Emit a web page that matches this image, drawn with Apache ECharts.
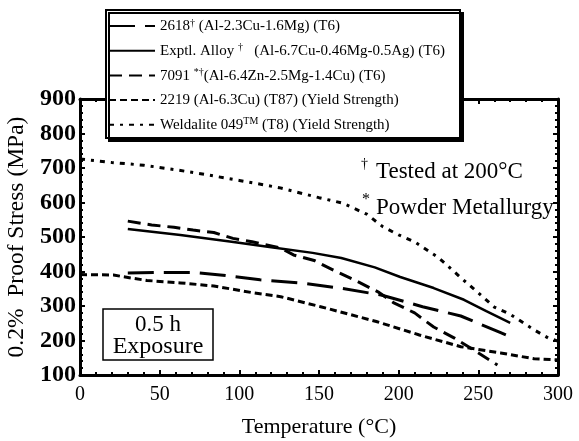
<!DOCTYPE html>
<html>
<head>
<meta charset="utf-8">
<script src="https://cdn.jsdelivr.net/npm/echarts@6/dist/echarts.min.js"></script>
<style>
  html, body { margin: 0; padding: 0; background: #fff; }
  #chart { width: 579px; height: 441px; }
</style>
</head>
<body>
<div id="chart"></div>
<script>
// Temperature (°C) / 0.2% proof stress (MPa) readings per alloy
const temp2618 = [30, 50, 72, 88, 113, 138, 163, 189, 215, 239, 264, 270];
const stress2618 = [396, 397, 397, 390, 376, 367, 352, 332, 298, 271, 223, 211];

const tempExptl = [30, 63, 94, 120, 146, 164, 185, 201, 222, 241, 255, 270];
const stressExptl = [523, 506, 487, 470, 454, 439, 412, 384, 352, 318, 285, 251];

const temp7091 = [30, 45, 59, 71, 84, 96, 108, 126, 134, 147, 159, 172, 187, 197, 210, 222, 235, 247, 262];
const stress7091 = [546, 535, 528, 520, 513, 496, 486, 468, 448, 432, 404, 376, 341, 309, 280, 239, 207, 173, 129];

const temp2219 = [0, 21, 27, 42, 63, 84, 109, 126, 151, 186, 213, 239, 264, 285, 300];
const stress2219 = [391, 390, 385, 374, 367, 358, 338, 327, 298, 255, 216, 182, 164, 147, 144];

const tempWeld = [0, 20, 40, 60, 80, 100, 125, 150, 165, 180, 190, 200, 210, 225, 240, 250, 260, 270, 285, 294, 300];
const stressWeld = [726, 716, 708, 695, 680, 664, 643, 614, 598, 566, 530, 506, 486, 440, 378, 338, 297, 276, 231, 207, 198];

// Axis ranges and tick spacing
const xRange = [0, 300, 50];
const yRange = [100, 900, 100];

// Series names and their legend captions
const seriesNames = ['2618', 'Exptl. Alloy', '7091', '2219', 'Weldalite 049'];
const legendCaptions = [
  '2618{s|†} (Al-2.3Cu-1.6Mg) (T6)',
  'Exptl. Alloy {s|†}   (Al-6.7Cu-0.46Mg-0.5Ag) (T6)',
  '7091 {s|*†}(Al-6.4Zn-2.5Mg-1.4Cu) (T6)',
  '2219 (Al-6.3Cu) (T87) (Yield Strength)',
  'Weldalite 049{s|TM} (T8) (Yield Strength)'
];

const pairs = (xs, ys) => xs.map((x, i) => [x, ys[i]]);
const FONT = 'Liberation Serif';

const chart = echarts.init(document.getElementById('chart'), null, { renderer: 'canvas' });

const frameAxis = (extra) => Object.assign({
  type: 'value',
  axisLine: { show: true, onZero: false, lineStyle: { color: '#000', width: 3 } },
  axisTick: { show: true, inside: true, length: 5, lineStyle: { color: '#000', width: 2 } },
  minorTick: { show: true, splitNumber: 5, length: 3, lineStyle: { color: '#000', width: 2 } },
  splitLine: { show: false },
  minorSplitLine: { show: false }
}, extra);

const lineSeries = (name, data, width, dash) => ({
  name: name,
  type: 'line',
  data: data,
  symbol: 'none',
  smooth: false,
  z: 3,
  itemStyle: { color: '#000' },
  lineStyle: { color: '#000', width: width, type: dash, cap: 'butt' }
});

chart.setOption({
  backgroundColor: '#fff',
  animation: false,
  grid: { left: 80, right: 21, top: 99, bottom: 66, containLabel: false, outerBoundsMode: 'none' },
  xAxis: [
    frameAxis({
      min: xRange[0], max: xRange[1], interval: xRange[2],
      position: 'bottom',
      name: 'Temperature (°C)',
      nameLocation: 'middle',
      nameGap: 41,
      nameTextStyle: { fontFamily: FONT, fontSize: 22, color: '#000' },
      axisLabel: { fontFamily: FONT, fontSize: 20, color: '#000', margin: 10 }
    }),
    frameAxis({
      min: xRange[0], max: xRange[1], interval: xRange[2],
      position: 'top',
      axisLabel: { show: false }
    })
  ],
  yAxis: [
    frameAxis({
      min: yRange[0], max: yRange[1], interval: yRange[2],
      position: 'left',
      name: '0.2%  Proof Stress (MPa)',
      nameLocation: 'middle',
      nameGap: 45,
      nameTextStyle: { fontFamily: FONT, fontSize: 23.5, color: '#000' },
      axisLabel: { fontFamily: FONT, fontSize: 24, fontWeight: 'bold', color: '#000', margin: 4 }
    }),
    frameAxis({
      min: yRange[0], max: yRange[1], interval: yRange[2],
      position: 'right',
      axisLabel: { show: false }
    })
  ],
  legend: {
    orient: 'vertical',
    left: 108,
    top: 18,
    z: 20,
    itemWidth: 46,
    itemHeight: 14,
    itemGap: 9.3,
    padding: 0,
    selectedMode: false,
    data: seriesNames,
    itemStyle: { color: 'rgba(0,0,0,0)', borderWidth: 0, opacity: 0 },
    formatter: (name) => legendCaptions[seriesNames.indexOf(name)],
    textStyle: {
      fontFamily: FONT, fontSize: 15, color: '#000', lineHeight: 14,
      rich: {
        s: { fontFamily: FONT, fontSize: 10, color: '#000', padding: [0, 0, 6, 0] }
      }
    }
  },
  graphic: [
    // legend frame with heavy lower/right edge
    {
      type: 'rect', z: 10,
      shape: { x: 106, y: 10, width: 354, height: 128 },
      style: { fill: '#fff', stroke: '#000', lineWidth: 2,
               shadowColor: '#000', shadowOffsetX: 3, shadowOffsetY: 3, shadowBlur: 0 }
    },
    // notes on test conditions
    { type: 'text', z: 10, x: 361, y: 157,
      style: { text: '†', fontFamily: FONT, fontSize: 14, fill: '#000' } },
    { type: 'text', z: 10, x: 376, y: 172,
      style: { text: 'Tested at 200°C', fontFamily: FONT, fontSize: 23, fill: '#000', verticalAlign: 'middle' } },
    { type: 'text', z: 10, x: 362, y: 192,
      style: { text: '*', fontFamily: FONT, fontSize: 16, fill: '#000' } },
    { type: 'text', z: 10, x: 376, y: 208,
      style: { text: 'Powder Metallurgy', fontFamily: FONT, fontSize: 23, fill: '#000', verticalAlign: 'middle' } },
    // exposure time box
    {
      type: 'rect', z: 10,
      shape: { x: 103, y: 309, width: 110, height: 51 },
      style: { fill: '#fff', stroke: '#000', lineWidth: 1.5 }
    },
    { type: 'text', z: 11, x: 158, y: 325,
      style: { text: '0.5 h', fontFamily: FONT, fontSize: 23, fill: '#000', align: 'center', verticalAlign: 'middle' } },
    { type: 'text', z: 11, x: 158, y: 347,
      style: { text: 'Exposure', fontFamily: FONT, fontSize: 24, fill: '#000', align: 'center', verticalAlign: 'middle' } }
  ],
  series: [
    lineSeries(seriesNames[0], pairs(temp2618, stress2618), 3, [26, 10]),
    lineSeries(seriesNames[1], pairs(tempExptl, stressExptl), 2.5, 'solid'),
    lineSeries(seriesNames[2], pairs(temp7091, stress7091), 3, [13, 7]),
    lineSeries(seriesNames[3], pairs(temp2219, stress2219), 3, [7, 4]),
    lineSeries(seriesNames[4], pairs(tempWeld, stressWeld), 3, [5, 6, 3, 6])
  ]
});
</script>
</body>
</html>
